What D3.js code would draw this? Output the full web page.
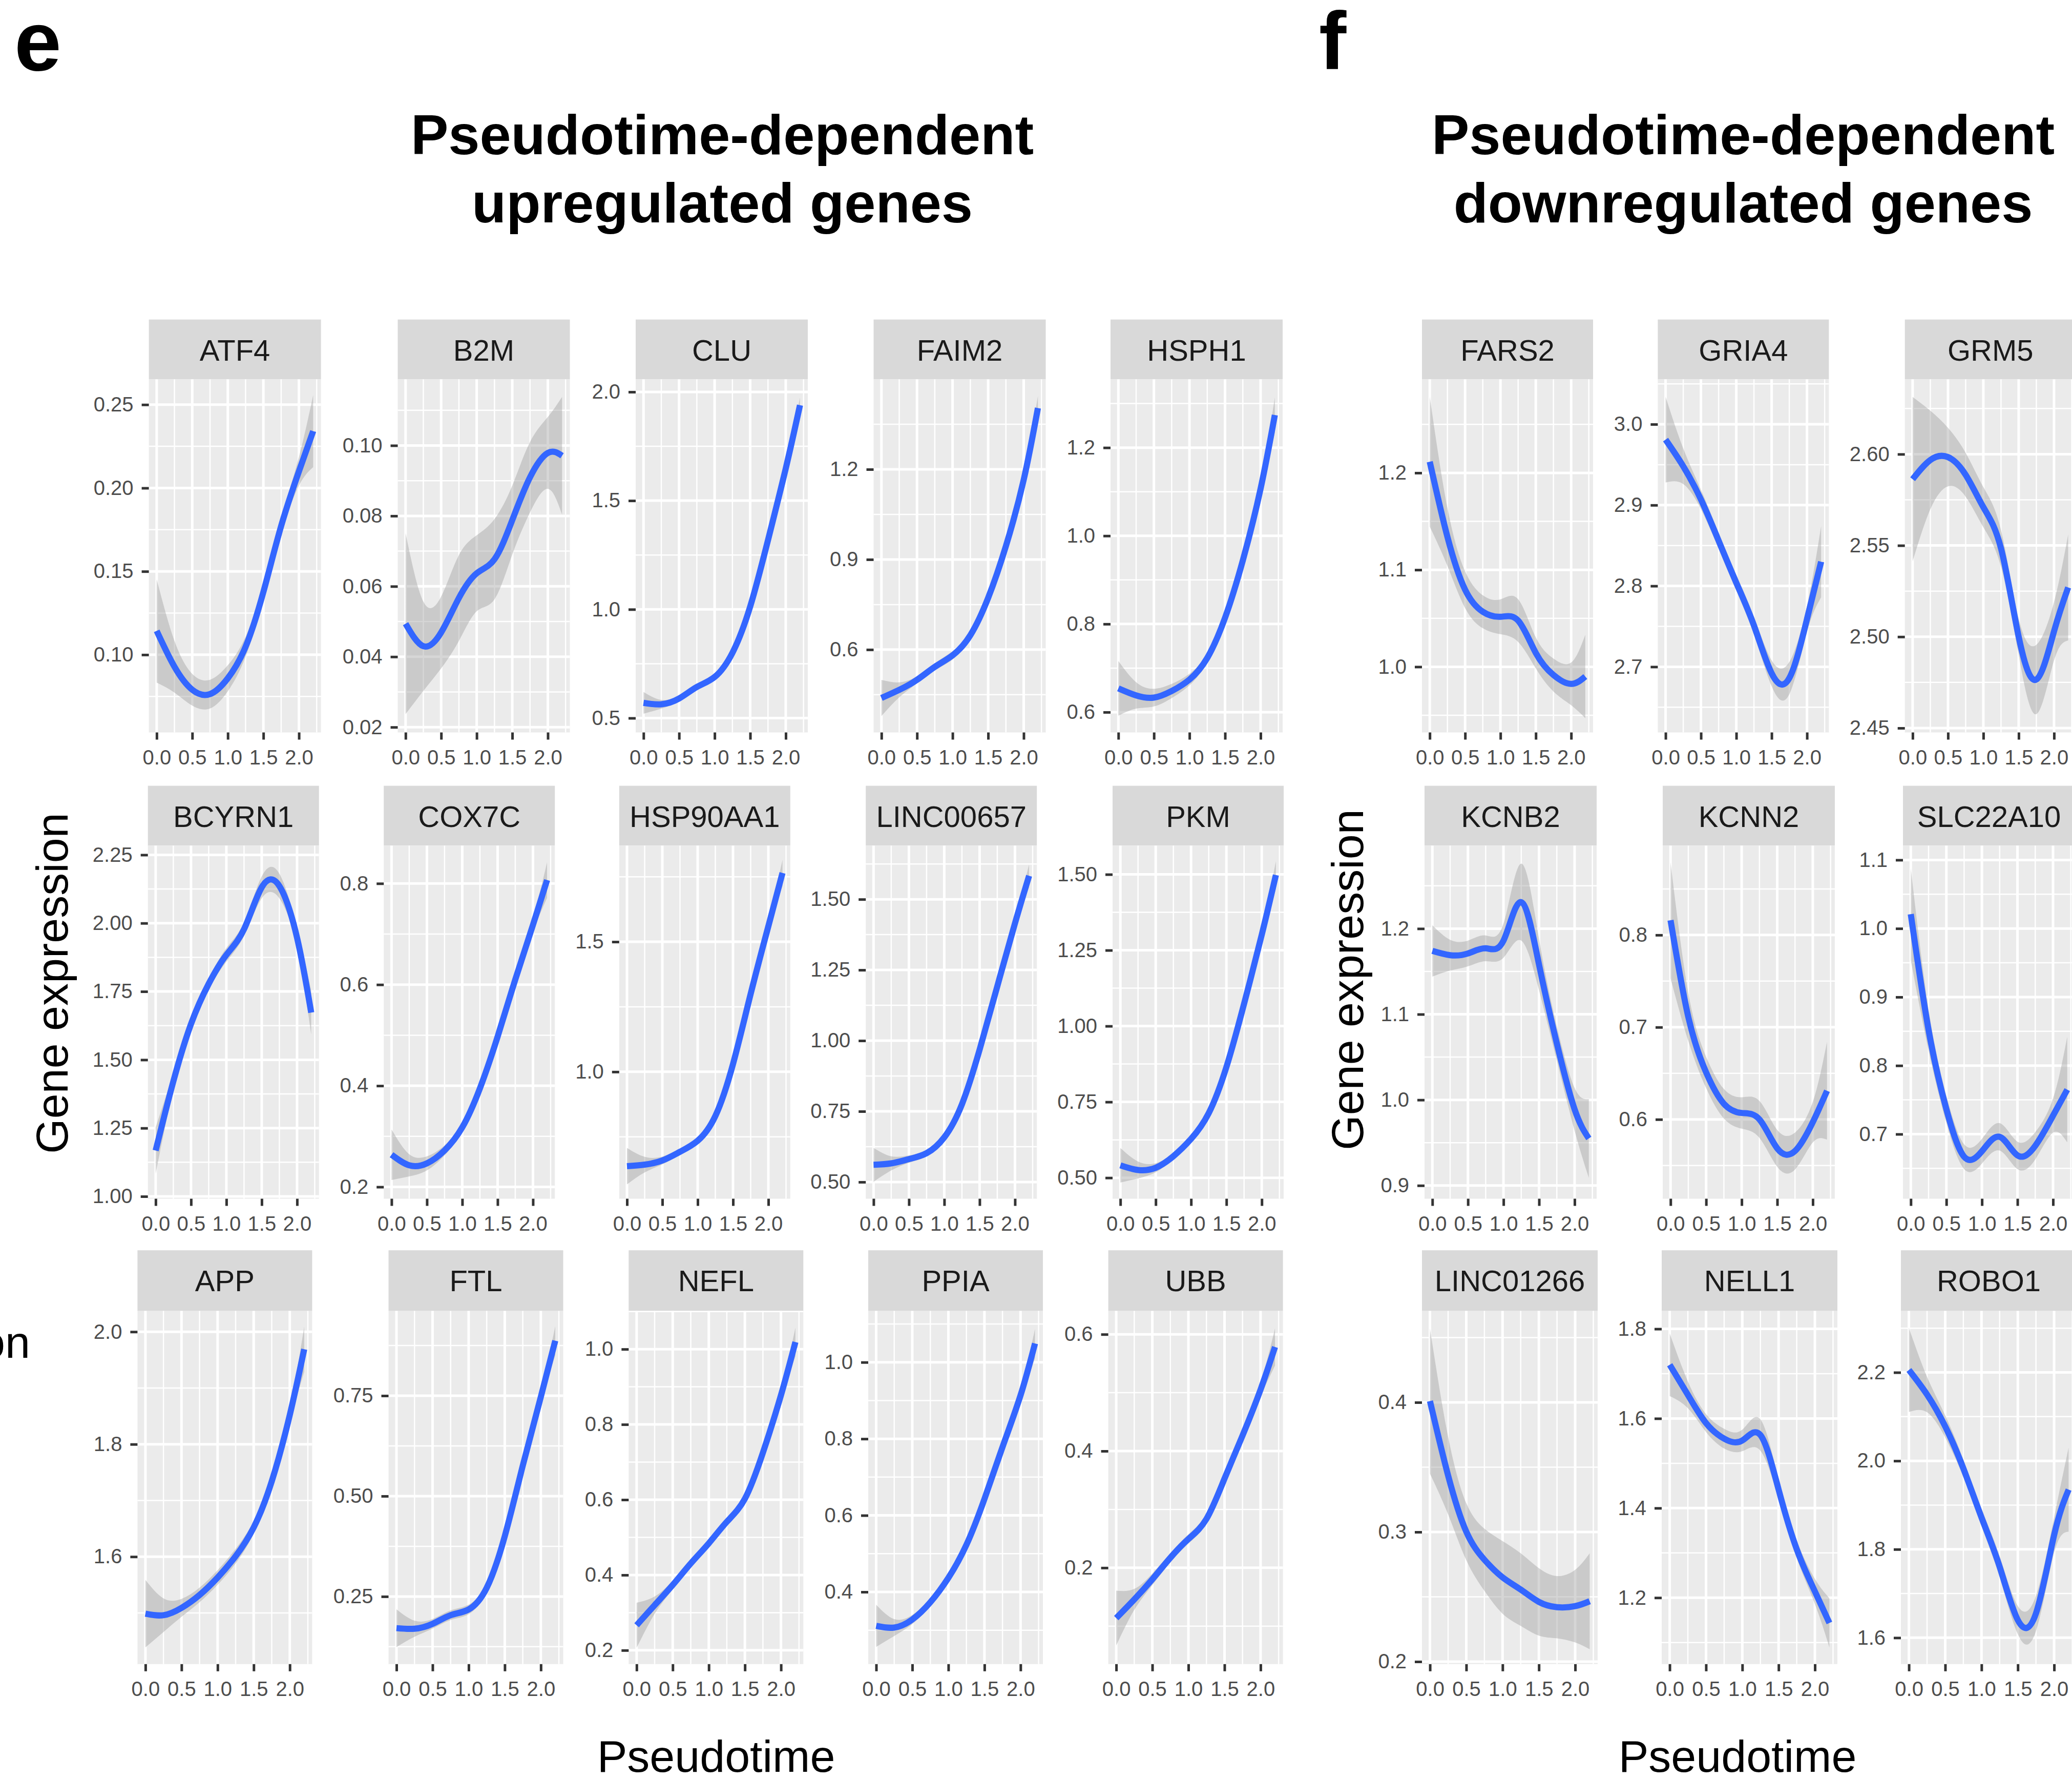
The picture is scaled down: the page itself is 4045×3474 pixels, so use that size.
<!DOCTYPE html>
<html>
<head>
<meta charset="utf-8">
<script src="https://cdn.jsdelivr.net/npm/d3@7"></script>
<style>
  body { margin: 0; background: #fff; }
  svg { display: block; font-family: "Liberation Sans", Arial, Helvetica, sans-serif; }
</style>
</head>
<body>
<div id="chart"></div>
<script>
// pseudotime values where the smoothed curves were read
const pseudotime = [0, 0.25, 0.5, 0.75, 1.0, 1.25, 1.5, 1.75, 2.0, 2.2];

// panel order, row by row
const upGenes = [
    ['ATF4', 'B2M', 'CLU', 'FAIM2', 'HSPH1'],
    ['BCYRN1', 'COX7C', 'HSP90AA1', 'LINC00657', 'PKM'],
    ['APP', 'FTL', 'NEFL', 'PPIA', 'UBB']
];
const downGenes = [
    ['FARS2', 'GRIA4', 'GRM5'],
    ['KCNB2', 'KCNN2', 'SLC22A10'],
    ['LINC01266', 'NELL1', 'ROBO1']
];

// fitted expression, standard error, y ticks and y limits per gene
const fit_ATF4 = [0.1143, 0.0928, 0.0790, 0.0764, 0.0859, 0.1048, 0.1376, 0.1772, 0.2100, 0.2341];
const se_ATF4 = [0.031, 0.0155, 0.0095, 0.0086, 0.0078, 0.006, 0.0045, 0.0045, 0.0086, 0.0216];
const ticks_ATF4 = [0.10, 0.15, 0.20, 0.25];
const lim_ATF4 = [0.0534, 0.2652];

const fit_B2M = [0.0494, 0.0430, 0.0469, 0.0567, 0.0637, 0.0677, 0.0788, 0.0910, 0.0979, 0.0971];
const se_B2M = [0.0257, 0.0127, 0.0102, 0.0122, 0.0108, 0.0114, 0.0098, 0.0100, 0.0102, 0.0167];
const ticks_B2M = [0.02, 0.04, 0.06, 0.08, 0.10];
const lim_B2M = [0.0185, 0.1188];

const fit_CLU = [0.570, 0.5635, 0.590, 0.643, 0.689, 0.80, 1.013, 1.318, 1.648, 1.939];
const se_CLU = [0.05, 0.02, 0.013, 0.012, 0.012, 0.012, 0.012, 0.015, 0.02, 0.035];
const ticks_CLU = [0.5, 1.0, 1.5, 2.0];
const lim_CLU = [0.434, 2.058];

const fit_FAIM2 = [0.439, 0.466, 0.4995, 0.5426, 0.581, 0.648, 0.772, 0.9445, 1.165, 1.404];
const se_FAIM2 = [0.06, 0.025, 0.012, 0.012, 0.014, 0.012, 0.01, 0.012, 0.018, 0.04];
const ticks_FAIM2 = [0.6, 0.9, 1.2];
const lim_FAIM2 = [0.3244, 1.4996];

const fit_HSPH1 = [0.654, 0.638, 0.633, 0.648, 0.674, 0.723, 0.814, 0.944, 1.107, 1.274];
const se_HSPH1 = [0.062, 0.03, 0.02, 0.016, 0.013, 0.01, 0.008, 0.008, 0.012, 0.04];
const ticks_HSPH1 = [0.6, 0.8, 1.0, 1.2];
const lim_HSPH1 = [0.554, 1.355];

const fit_BCYRN1 = [1.168, 1.421, 1.631, 1.778, 1.884, 1.978, 2.131, 2.136, 1.947, 1.673];
const se_BCYRN1 = [0.085, 0.03, 0.02, 0.02, 0.025, 0.025, 0.04, 0.045, 0.035, 0.08];
const ticks_BCYRN1 = [1.00, 1.25, 1.50, 1.75, 2.00, 2.25];
const lim_BCYRN1 = [0.9916, 2.284];

const fit_COX7C = [0.2637, 0.2427, 0.2466, 0.2722, 0.3177, 0.395, 0.497, 0.610, 0.718, 0.8068];
const se_COX7C = [0.05, 0.022, 0.014, 0.01, 0.008, 0.008, 0.008, 0.01, 0.014, 0.035];
const ticks_COX7C = [0.2, 0.4, 0.6, 0.8];
const lim_COX7C = [0.1767, 0.875];

const fit_HSP90AA1 = [0.637, 0.643, 0.659, 0.6925, 0.735, 0.83, 1.03, 1.30, 1.56, 1.765];
const se_HSP90AA1 = [0.07, 0.03, 0.015, 0.012, 0.012, 0.012, 0.012, 0.015, 0.02, 0.05];
const ticks_HSP90AA1 = [1.0, 1.5];
const lim_HSP90AA1 = [0.512, 1.870];

const fit_LINC00657 = [0.561, 0.566, 0.581, 0.602, 0.658, 0.775, 0.968, 1.192, 1.415, 1.583];
const se_LINC00657 = [0.06, 0.025, 0.013, 0.01, 0.01, 0.01, 0.01, 0.012, 0.016, 0.04];
const ticks_LINC00657 = [0.50, 0.75, 1.00, 1.25, 1.50];
const lim_LINC00657 = [0.441, 1.690];

const fit_PKM = [0.541, 0.5256, 0.533, 0.571, 0.628, 0.713, 0.865, 1.0735, 1.301, 1.498];
const se_PKM = [0.057, 0.028, 0.015, 0.01, 0.01, 0.01, 0.01, 0.012, 0.016, 0.045];
const ticks_PKM = [0.50, 0.75, 1.00, 1.25, 1.50];
const lim_PKM = [0.431, 1.595];

const fit_APP = [1.4987, 1.496, 1.509, 1.532, 1.563, 1.601, 1.652, 1.734, 1.852, 1.969];
const se_APP = [0.06, 0.03, 0.016, 0.013, 0.013, 0.013, 0.011, 0.009, 0.012, 0.04];
const ticks_APP = [1.6, 1.8, 2.0];
const lim_APP = [1.409, 2.037];

const fit_FTL = [0.1712, 0.1698, 0.182, 0.2035, 0.2178, 0.2715, 0.40, 0.576, 0.747, 0.887];
const se_FTL = [0.047, 0.02, 0.012, 0.012, 0.012, 0.01, 0.008, 0.01, 0.014, 0.036];
const ticks_FTL = [0.25, 0.50, 0.75];
const lim_FTL = [0.0817, 0.961];

const fit_NEFL = [0.2665, 0.32, 0.3734, 0.4307, 0.4842, 0.5415, 0.6026, 0.725, 0.8777, 1.019];
const se_NEFL = [0.06, 0.023, 0.012, 0.01, 0.01, 0.011, 0.011, 0.01, 0.013, 0.038];
const ticks_NEFL = [0.2, 0.4, 0.6, 0.8, 1.0];
const lim_NEFL = [0.1633, 1.1015];

const fit_PPIA = [0.3114, 0.307, 0.328, 0.373, 0.4368, 0.523, 0.643, 0.7785, 0.9137, 1.049];
const se_PPIA = [0.055, 0.022, 0.012, 0.01, 0.01, 0.01, 0.01, 0.01, 0.014, 0.038];
const ticks_PPIA = [0.4, 0.6, 0.8, 1.0];
const lim_PPIA = [0.2115, 1.134];

const fit_UBB = [0.1138, 0.1458, 0.1803, 0.2172, 0.2493, 0.2837, 0.3527, 0.4266, 0.5054, 0.5783];
const se_UBB = [0.047, 0.018, 0.01, 0.008, 0.008, 0.008, 0.008, 0.008, 0.012, 0.032];
const ticks_UBB = [0.2, 0.4, 0.6];
const lim_UBB = [0.035, 0.640];

const fit_FARS2 = [1.2115, 1.134, 1.0795, 1.0568, 1.0516, 1.0477, 1.0143, 0.9915, 0.9824, 0.99];
const se_FARS2 = [0.067, 0.03, 0.019, 0.017, 0.018, 0.022, 0.016, 0.017, 0.022, 0.043];
const ticks_FARS2 = [1.0, 1.1, 1.2];
const lim_FARS2 = [0.9323, 1.2965];

const fit_GRIA4 = [2.981, 2.948, 2.907, 2.856, 2.804, 2.751, 2.692, 2.686, 2.759, 2.830];
const se_GRIA4 = [0.053, 0.022, 0.012, 0.01, 0.01, 0.011, 0.016, 0.02, 0.016, 0.044];
const ticks_GRIA4 = [2.7, 2.8, 2.9, 3.0];
const lim_GRIA4 = [2.6188, 3.0556];

const fit_GRM5 = [2.5863, 2.5968, 2.5984, 2.5887, 2.571, 2.5484, 2.50, 2.4766, 2.503, 2.527];
const se_GRM5 = [0.045, 0.027, 0.016, 0.012, 0.011, 0.01, 0.01, 0.019, 0.016, 0.029];
const ticks_GRM5 = [2.45, 2.50, 2.55, 2.60];
const lim_GRM5 = [2.4476, 2.641];

const fit_KCNB2 = [1.174, 1.169, 1.171, 1.177, 1.186, 1.231, 1.158, 1.066, 0.989, 0.955];
const se_KCNB2 = [0.03, 0.018, 0.015, 0.015, 0.02, 0.045, 0.03, 0.02, 0.025, 0.046];
const ticks_KCNB2 = [0.9, 1.0, 1.1, 1.2];
const lim_KCNB2 = [0.8846, 1.297];

const fit_KCNN2 = [0.816, 0.711, 0.651, 0.617, 0.607, 0.60, 0.5686, 0.5657, 0.597, 0.631];
const se_KCNN2 = [0.063, 0.026, 0.017, 0.016, 0.017, 0.02, 0.02, 0.02, 0.022, 0.053];
const ticks_KCNN2 = [0.6, 0.7, 0.8];
const lim_KCNN2 = [0.514, 0.897];

const fit_SLC22A10 = [1.021, 0.852, 0.7365, 0.667, 0.675, 0.696, 0.669, 0.683, 0.727, 0.765];
const se_SLC22A10 = [0.067, 0.03, 0.02, 0.018, 0.018, 0.02, 0.02, 0.02, 0.025, 0.077];
const ticks_SLC22A10 = [0.7, 0.8, 0.9, 1.0, 1.1];
const lim_SLC22A10 = [0.6058, 1.121];

const fit_LINC01266 = [0.401, 0.3436, 0.3003, 0.2786, 0.265, 0.2556, 0.2461, 0.242, 0.2428, 0.2466];
const se_LINC01266 = [0.056, 0.03, 0.022, 0.024, 0.028, 0.028, 0.026, 0.024, 0.028, 0.037];
const ticks_LINC01266 = [0.2, 0.3, 0.4];
const lim_LINC01266 = [0.1981, 0.4705];

const fit_NELL1 = [1.72, 1.653, 1.59, 1.555, 1.551, 1.563, 1.4415, 1.308, 1.214, 1.1436];
const se_NELL1 = [0.07, 0.03, 0.02, 0.022, 0.024, 0.035, 0.022, 0.02, 0.028, 0.055];
const ticks_NELL1 = [1.2, 1.4, 1.6, 1.8];
const lim_NELL1 = [1.0518, 1.84];

const fit_ROBO1 = [2.2056, 2.15, 2.078, 1.983, 1.872, 1.7605, 1.64, 1.655, 1.832, 1.935];
const se_ROBO1 = [0.095, 0.04, 0.025, 0.02, 0.02, 0.024, 0.032, 0.04, 0.04, 0.095];
const ticks_ROBO1 = [1.6, 1.8, 2.0, 2.2];
const lim_ROBO1 = [1.5404, 2.339];

// lookup table built from the arrays above
const geneTable = {
    ATF4: [fit_ATF4, se_ATF4, ticks_ATF4, lim_ATF4],
    B2M: [fit_B2M, se_B2M, ticks_B2M, lim_B2M],
    CLU: [fit_CLU, se_CLU, ticks_CLU, lim_CLU],
    FAIM2: [fit_FAIM2, se_FAIM2, ticks_FAIM2, lim_FAIM2],
    HSPH1: [fit_HSPH1, se_HSPH1, ticks_HSPH1, lim_HSPH1],
    BCYRN1: [fit_BCYRN1, se_BCYRN1, ticks_BCYRN1, lim_BCYRN1],
    COX7C: [fit_COX7C, se_COX7C, ticks_COX7C, lim_COX7C],
    HSP90AA1: [fit_HSP90AA1, se_HSP90AA1, ticks_HSP90AA1, lim_HSP90AA1],
    LINC00657: [fit_LINC00657, se_LINC00657, ticks_LINC00657, lim_LINC00657],
    PKM: [fit_PKM, se_PKM, ticks_PKM, lim_PKM],
    APP: [fit_APP, se_APP, ticks_APP, lim_APP],
    FTL: [fit_FTL, se_FTL, ticks_FTL, lim_FTL],
    NEFL: [fit_NEFL, se_NEFL, ticks_NEFL, lim_NEFL],
    PPIA: [fit_PPIA, se_PPIA, ticks_PPIA, lim_PPIA],
    UBB: [fit_UBB, se_UBB, ticks_UBB, lim_UBB],
    FARS2: [fit_FARS2, se_FARS2, ticks_FARS2, lim_FARS2],
    GRIA4: [fit_GRIA4, se_GRIA4, ticks_GRIA4, lim_GRIA4],
    GRM5: [fit_GRM5, se_GRM5, ticks_GRM5, lim_GRM5],
    KCNB2: [fit_KCNB2, se_KCNB2, ticks_KCNB2, lim_KCNB2],
    KCNN2: [fit_KCNN2, se_KCNN2, ticks_KCNN2, lim_KCNN2],
    SLC22A10: [fit_SLC22A10, se_SLC22A10, ticks_SLC22A10, lim_SLC22A10],
    LINC01266: [fit_LINC01266, se_LINC01266, ticks_LINC01266, lim_LINC01266],
    NELL1: [fit_NELL1, se_NELL1, ticks_NELL1, lim_NELL1],
    ROBO1: [fit_ROBO1, se_ROBO1, ticks_ROBO1, lim_ROBO1]
};

const xTicks = [0, 0.5, 1.0, 1.5, 2.0];
const xMinor = [0.25, 0.75, 1.25, 1.75, 2.25];

// ---- layout (pixels) ----
const W = 4045, H = 3474;
const rows = [
    { strip: 623.6, top: 740.3, bottom: 1429.5 },
    { strip: 1533.6, top: 1650.3, bottom: 2339.5 },
    { strip: 2440.2, top: 2558.6, bottom: 3247.8 }
];
const leftsE = [
    { w: 336, x: [290.6, 776.5, 1241, 1705.5, 2168] },
    { w: 334, x: [288.7, 749.2, 1208.8, 1690.2, 2172] },
    { w: 341, x: [268.4, 758.5, 1227.3, 1695, 2163.6] }
];
const leftsF = [
    { w: 334, x: [2776, 3236.4, 3718.7] },
    { w: 336, x: [2781, 3246, 3715] },
    { w: 343, x: [2776, 3244, 3711] }
];

const svg = d3.select('#chart')
    .append('svg')
    .attr('width', W)
    .attr('height', H)
    .attr('viewBox', `0 0 ${W} ${H}`);

svg.append('rect').attr('width', W).attr('height', H).attr('fill', '#fff');

function decimals (ticks) {
    for (let d = 0; d < 5; d++) {
        if (ticks.every(v => Math.abs(Math.round(v * 10 ** d) - v * 10 ** d) < 1e-6))
            return d;
    }
    return 4;
}

function minorBreaks (ticks, lim) {
    let step = ticks[1] - ticks[0];
    let out = [];
    for (let v = ticks[0] - step / 2; v <= lim[1]; v += step) {
        if (v >= lim[0]) out.push(v);
    }
    return out;
}

let clipId = 0;

function drawPanel (gene, left, w, row) {
    let [fit, se, ticks, lim] = geneTable[gene];
    let g = svg.append('g').attr('class', 'panel');

    let x = d3.scaleLinear().domain([-0.11, 2.31]).range([left, left + w]);
    let y = d3.scaleLinear().domain(lim).range([row.bottom, row.top]);

    // strip
    g.append('rect')
        .attr('x', left).attr('y', row.strip)
        .attr('width', w).attr('height', row.top - row.strip)
        .attr('fill', '#D9D9D9');
    g.append('text')
        .attr('x', left + w / 2).attr('y', row.strip + 80)
        .attr('text-anchor', 'middle')
        .attr('font-size', 58)
        .attr('fill', '#1A1A1A')
        .text(gene);

    // panel background + grid
    g.append('rect')
        .attr('x', left).attr('y', row.top)
        .attr('width', w).attr('height', row.bottom - row.top)
        .attr('fill', '#EBEBEB');

    let grid = g.append('g').attr('stroke', '#fff');
    grid.selectAll('.ymin').data(minorBreaks(ticks, lim)).enter().append('line')
        .attr('x1', left).attr('x2', left + w)
        .attr('y1', d => y(d)).attr('y2', d => y(d))
        .attr('stroke-width', 2.5);
    grid.selectAll('.xmin').data(xMinor).enter().append('line')
        .attr('x1', d => x(d)).attr('x2', d => x(d))
        .attr('y1', row.top).attr('y2', row.bottom)
        .attr('stroke-width', 2.5);
    grid.selectAll('.ymaj').data(ticks).enter().append('line')
        .attr('x1', left).attr('x2', left + w)
        .attr('y1', d => y(d)).attr('y2', d => y(d))
        .attr('stroke-width', 5);
    grid.selectAll('.xmaj').data(xTicks).enter().append('line')
        .attr('x1', d => x(d)).attr('x2', d => x(d))
        .attr('y1', row.top).attr('y2', row.bottom)
        .attr('stroke-width', 5);

    // smooth + confidence band
    let id = 'clip' + (clipId++);
    svg.append('clipPath').attr('id', id)
        .append('rect')
        .attr('x', left).attr('y', row.top)
        .attr('width', w).attr('height', row.bottom - row.top);

    let pts = pseudotime.map((t, i) => ({ t: t, fit: fit[i], se: se[i] }));
    let curve = d3.curveNatural;

    let area = d3.area()
        .x(d => x(d.t))
        .y0(d => y(d.fit - d.se))
        .y1(d => y(d.fit + d.se))
        .curve(curve);
    let line = d3.line()
        .x(d => x(d.t))
        .y(d => y(d.fit))
        .curve(curve);

    let data = g.append('g').attr('clip-path', `url(#${id})`);
    data.append('path')
        .datum(pts)
        .attr('d', area)
        .attr('fill', '#999999')
        .attr('fill-opacity', 0.4);
    data.append('path')
        .datum(pts)
        .attr('d', line)
        .attr('fill', 'none')
        .attr('stroke', '#3366FF')
        .attr('stroke-width', 12);

    // axes
    let fmt = d3.format('.' + decimals(ticks) + 'f');
    let yAxis = g.append('g')
        .attr('transform', `translate(${left},0)`)
        .call(d3.axisLeft(y).tickValues(ticks).tickSize(14).tickPadding(16).tickFormat(fmt));
    let xAxis = g.append('g')
        .attr('transform', `translate(0,${row.bottom})`)
        .call(d3.axisBottom(x).tickValues(xTicks).tickSize(14).tickPadding(20).tickFormat(d3.format('.1f')));

    [yAxis, xAxis].forEach(ax => {
        ax.select('.domain').remove();
        ax.attr('font-size', 40).attr('font-family', null);
        ax.selectAll('line').attr('stroke', '#333333').attr('stroke-width', 5);
        ax.selectAll('text').attr('fill', '#4D4D4D');
    });
}

upGenes.forEach((genes, r) => {
    genes.forEach((gene, c) => drawPanel(gene, leftsE[r].x[c], leftsE[r].w, rows[r]));
});
downGenes.forEach((genes, r) => {
    genes.forEach((gene, c) => drawPanel(gene, leftsF[r].x[c], leftsF[r].w, rows[r]));
});

// ---- labels ----
const bold = (sel) => sel.attr('font-weight', 'bold').attr('fill', '#000');

bold(svg.append('text').attr('x', 28).attr('y', 137).attr('font-size', 165).text('e'));
bold(svg.append('text').attr('x', 2575).attr('y', 135).attr('font-size', 160).text('f'));

const titles = [
    { cx: 1410, lines: ['Pseudotime-dependent', 'upregulated genes'] },
    { cx: 3403, lines: ['Pseudotime-dependent', 'downregulated genes'] }
];
titles.forEach(t => {
    t.lines.forEach((s, i) => {
        bold(svg.append('text')
            .attr('x', t.cx).attr('y', 301 + i * 133)
            .attr('text-anchor', 'middle')
            .attr('font-size', 110)
            .text(s));
    });
});

[{ x: 132, y: 1919 }, { x: 2661, y: 1912 }].forEach(p => {
    svg.append('text')
        .attr('transform', `translate(${p.x},${p.y}) rotate(-90)`)
        .attr('text-anchor', 'middle')
        .attr('font-size', 88)
        .attr('fill', '#000')
        .text('Gene expression');
});

// tail of a neighbouring axis title, cut at the left edge
svg.append('text')
    .attr('x', 59).attr('y', 2650)
    .attr('text-anchor', 'end')
    .attr('font-size', 88)
    .attr('fill', '#000')
    .text('on');

[1398, 3392].forEach(cx => {
    svg.append('text')
        .attr('x', cx).attr('y', 3458)
        .attr('text-anchor', 'middle')
        .attr('font-size', 88)
        .attr('fill', '#000')
        .text('Pseudotime');
});
</script>
</body>
</html>
